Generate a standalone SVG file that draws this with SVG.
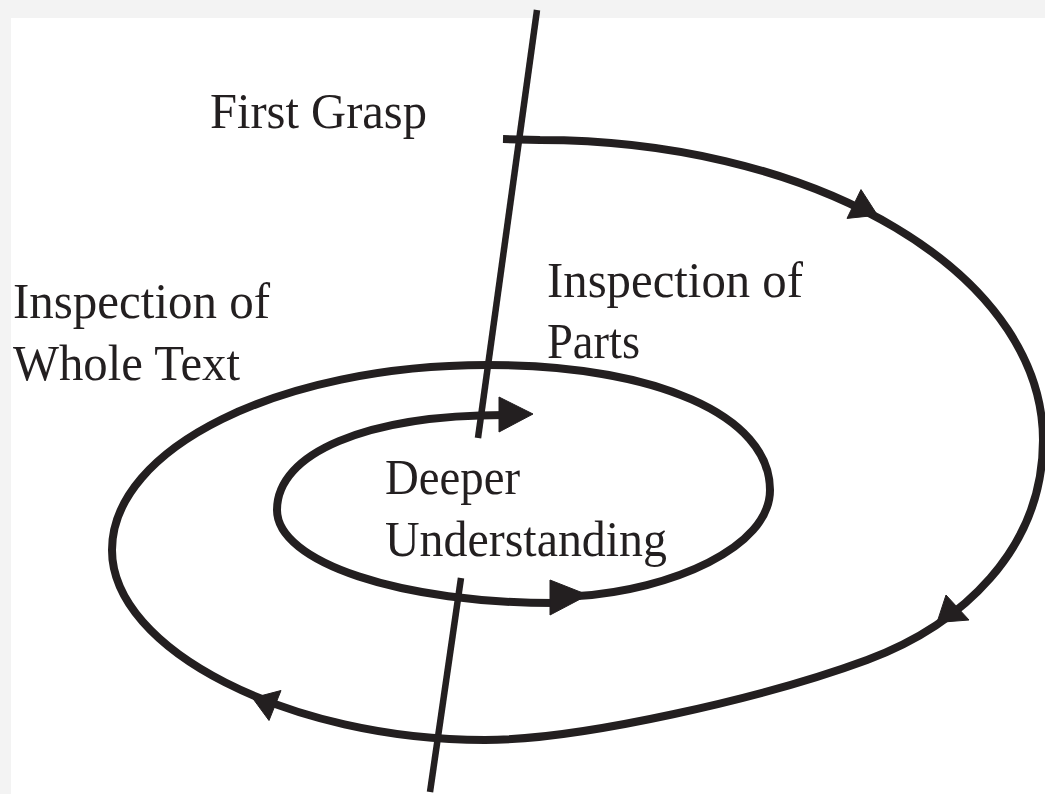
<svg xmlns="http://www.w3.org/2000/svg" width="1045" height="794" viewBox="0 0 1045 794">
  <style>
    .ln { fill: none; stroke: #231f20; stroke-linecap: butt; stroke-linejoin: round; }
    .sp { stroke-width: 8; }
    .ax { stroke-width: 6.5; }
    .ah { fill: #231f20; stroke: #231f20; stroke-width: 1; stroke-linejoin: miter; }
    .lbl { font-family: "Liberation Serif", "Times New Roman", serif; font-size: 50px; fill: #231f20; }
  </style>
  <rect x="0" y="0" width="1045" height="794" fill="#f3f3f3"/>
  <rect x="11" y="18" width="1034" height="776" fill="#ffffff"/>

  <g id="connectors">
    <line class="ln ax" x1="537" y1="10" x2="478" y2="438"/>
    <line class="ln ax" x1="461" y1="578" x2="430" y2="792"/>
    <path class="ln sp" d="M503,139 L540,140 A503,300 0 0 1 1043,440 C1043,550 961,625 867,660 C764,698 580,740 485,740 C290,740 112,650 112,550 C112,448 280,365 487,365 C655,365 770,415 770,490 C770,548 670,590 578,596"/>
    <path class="ln sp" d="M560,603 C400,604 277,562 277,510 C277,453 366,415 505,415"/>
    <polygon class="ah" points="861,189.6 877.5,215.2 847,218.4"/>
    <polygon class="ah" points="946,595 969,620 937,622.5"/>
    <polygon class="ah" points="281,690.5 252.5,698 269,720.5"/>
    <polygon class="ah" points="550,580 588,595 550,615"/>
    <polygon class="ah" points="499,397 533,414 499,432"/>
  </g>

  <g id="first-grasp">
    <text class="lbl" x="210" y="128" textLength="217" lengthAdjust="spacingAndGlyphs">First Grasp</text>
  </g>
  <g id="inspection-whole-text">
    <text class="lbl" x="13" y="318" textLength="257" lengthAdjust="spacingAndGlyphs">Inspection of</text>
    <text class="lbl" x="13" y="380" textLength="227" lengthAdjust="spacingAndGlyphs">Whole Text</text>
  </g>
  <g id="inspection-parts">
    <text class="lbl" x="547" y="297" textLength="256" lengthAdjust="spacingAndGlyphs">Inspection of</text>
    <text class="lbl" x="547" y="358" textLength="93" lengthAdjust="spacingAndGlyphs">Parts</text>
  </g>
  <g id="deeper-understanding">
    <text class="lbl" x="385" y="494" textLength="135" lengthAdjust="spacingAndGlyphs">Deeper</text>
    <text class="lbl" x="385" y="556" textLength="282" lengthAdjust="spacingAndGlyphs">Understanding</text>
  </g>
</svg>
